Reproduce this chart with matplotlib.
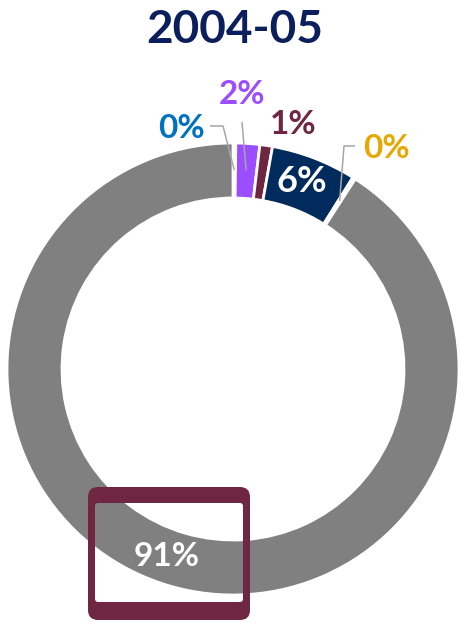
import numpy as np
import matplotlib
matplotlib.use("Agg")
import matplotlib.pyplot as plt
import matplotlib.patches as mpatches
from matplotlib.path import Path

# data (share of total, %) - clockwise from 12 o'clock
values = [0.2, 1.7, 0.9, 6.1, 0.2, 90.9]
labels = ["0%", "2%", "1%", "6%", "0%", "91%"]
colors = ["#0070c0", "#9b4dff", "#6f2640", "#002b5c", "#e6a700", "#808080"]
title = "2004-05"

W, H = 461, 623
FONT = ["Lato", "DejaVu Sans"]

fig = plt.figure(figsize=(W / 100, H / 100), dpi=100)
ax = fig.add_axes([0, 0, 1, 1])

#donut geometry in pixels (y measured from top)
cx, cy = 233, 369
R, ring = 226, 55

wedges, _ = ax.pie(values, colors=colors, startangle=90, counterclock=False,
                   radius=R, center=(cx, H - cy),
                   wedgeprops=dict(width=ring, edgecolor="white", linewidth=2))

ax.set_xlim(0, W)
ax.set_ylim(0, H)
ax.set_aspect("equal")
ax.axis("off")


def mid_point(i, r):
  w = wedges[i]
  a = np.deg2rad((w.theta1 + w.theta2) / 2)
  return cx + r * np.cos(a), (H - cy) + r * np.sin(a)


lead = dict(color="#a6a6a6", lw=1.1, solid_capstyle="butt")

#label positions (pixel coords, y from top), colours, sizes
label_pos = {0: (181, 129), 1: (242, 94), 2: (293, 124), 3: (302, 181),
             4: (386, 149), 5: (167, 557)}
label_color = {0: colors[0], 1: colors[1], 2: colors[2], 3: "white",
               4: colors[4], 5: "white"}
label_size = {0: 24, 1: 24, 2: 24, 3: 26, 4: 24, 5: 24}

for i, txt in enumerate(labels):
  x, y = label_pos[i]
  ax.text(x, H - y, txt, ha="center", va="center", fontsize=label_size[i],
          fontweight="bold", color=label_color[i], family=FONT, zorder=5)

#leader lines
px, py = mid_point(0, 199)
ax.plot([210, 223, px], [H - 126, H - 126, py], **lead)
px, py = mid_point(1, 199)
ax.plot([242, px], [H - 122, py], **lead)
px, py = mid_point(4, 199)
ax.plot([355, 344, px], [H - 146, H - 146, py], **lead)

#title
ax.text(W / 2 + 4, H - 30, title, ha="center", va="center", fontsize=33,
        fontweight="bold", color="#0a1f5c", family=FONT)


#maroon highlight frame around the big label
def signed_area(p):
  return 0.5 * np.sum(p[:-1, 0] * p[1:, 1] - p[1:, 0] * p[:-1, 1])


outer = mpatches.FancyBboxPatch((88, H - 620), 162, 133,
                                boxstyle="round,pad=0,rounding_size=10")
inner = mpatches.FancyBboxPatch((95, H - 602), 148, 99,
                                boxstyle="round,pad=0,rounding_size=3")
po = outer.get_path().to_polygons()[0]
pi = inner.get_path().to_polygons()[0]
if np.sign(signed_area(po)) == np.sign(signed_area(pi)):
  pi = pi[::-1]
frame = Path.make_compound_path(Path(po, closed=True), Path(pi, closed=True))
ax.add_patch(mpatches.PathPatch(frame, facecolor="#6f2640", edgecolor="none",
                                zorder=6))

fig.savefig("out.png", dpi=100)
